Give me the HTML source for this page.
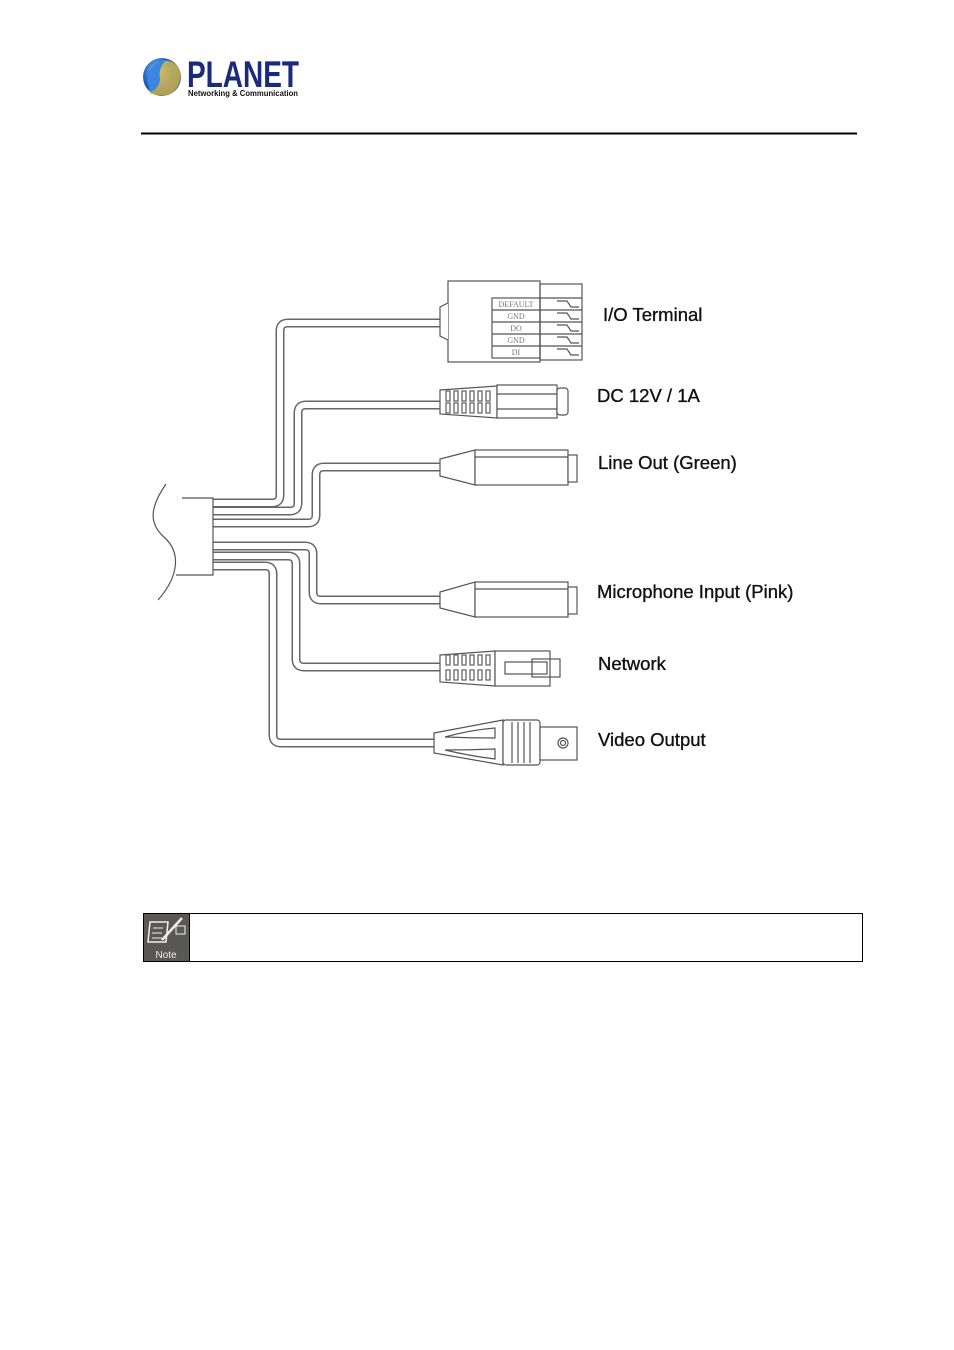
<!DOCTYPE html>
<html><head><meta charset="utf-8"><style>
body{margin:0;width:954px;height:1350px;background:#fff;position:relative;overflow:hidden;font-family:"Liberation Sans",Arial,sans-serif}
.lbl{position:absolute;font-size:18.5px;color:#111;line-height:20px;-webkit-text-stroke:0.35px #111}
</style></head><body>
<svg width="954" height="1350" style="position:absolute;left:0;top:0">
<defs><radialGradient id="g" cx="0.4" cy="0.35" r="0.7"><stop offset="0" stop-color="#9fd3ff"/><stop offset="0.5" stop-color="#2a6fc4"/><stop offset="1" stop-color="#0b2f7a"/></radialGradient></defs>
<circle cx="162" cy="77" r="19" fill="url(#g)"/>
<path d="M150,94 Q146,72 160,62 Q176,57 181,74 Q180,92 165,96 Z" fill="#d9b84a" opacity="0.8"/>
<path d="M147,80 Q150,62 166,60 Q158,68 160,80 Q158,90 150,92 Z" fill="#3a86e0"/>
<text x="187" y="87" font-family="Liberation Sans" font-weight="bold" font-size="37" fill="#1b2a7d" textLength="112" lengthAdjust="spacingAndGlyphs">PLANET</text>
<text x="188" y="96" font-family="Liberation Sans" font-weight="bold" font-size="8.5" fill="#111" textLength="110" lengthAdjust="spacingAndGlyphs">Networking &amp; Communication</text>
<line x1="141" y1="133.5" x2="857" y2="133.5" stroke="#000" stroke-width="2"/>

<g fill="none" stroke-linejoin="round">
<g stroke="#666" stroke-width="9">
<path d="M440,323 H288 Q280,323 280,331 V495 Q280,503 272,503 H213"/>
<path d="M440,405 H306 Q298,405 298,413 V503 Q298,511 290,511 H213"/>
<path d="M440,467 H324 Q316,467 316,475 V515 Q316,523 308,523 H213"/>
<path d="M440,600 H321 Q313,600 313,592 V554 Q313,546 305,546 H213"/>
<path d="M440,667 H304 Q296,667 296,659 V564 Q296,556 288,556 H213"/>
<path d="M434,743 H281 Q273,743 273,735 V574 Q273,566 265,566 H213"/>
</g>
<g stroke="#fff" stroke-width="6">
<path d="M440,323 H288 Q280,323 280,331 V495 Q280,503 272,503 H213"/>
<path d="M440,405 H306 Q298,405 298,413 V503 Q298,511 290,511 H213"/>
<path d="M440,467 H324 Q316,467 316,475 V515 Q316,523 308,523 H213"/>
<path d="M440,600 H321 Q313,600 313,592 V554 Q313,546 305,546 H213"/>
<path d="M440,667 H304 Q296,667 296,659 V564 Q296,556 288,556 H213"/>
<path d="M434,743 H281 Q273,743 273,735 V574 Q273,566 265,566 H213"/>
</g>
</g>

<g fill="none" stroke="#555" stroke-width="1.2">
<!-- bundle -->
<path d="M182,498 H213 V575 H176"/>
<path d="M166,484 C148,510 150,525 165,538 C180,552 180,575 158,600"/>
<!-- I/O -->
<rect x="448" y="281" width="92" height="81" fill="#fff"/>
<path d="M448,303 L440,307 V336 L448,340" fill="#fff"/>
<rect x="540" y="284" width="42" height="76"/>
<rect x="492" y="298" width="48" height="60"/>
<line x1="492" y1="310" x2="582" y2="310"/><line x1="492" y1="322" x2="582" y2="322"/><line x1="492" y1="334" x2="582" y2="334"/><line x1="492" y1="346" x2="582" y2="346"/><line x1="540" y1="298" x2="582" y2="298"/>
<path d="M557,301 h10 l4,6 h8 M557,313 h10 l4,6 h8 M557,325 h10 l4,6 h8 M557,337 h10 l4,6 h8 M557,349 h10 l4,6 h8"/>
<!-- DC -->
<path d="M440,390 L497,386 V418 L440,414 Z" fill="#fff"/>
<rect x="497" y="385" width="60" height="33" fill="#fff"/>
<line x1="497" y1="394" x2="557" y2="394"/><line x1="497" y1="409" x2="557" y2="409"/>
<rect x="557" y="388" width="11" height="27" rx="3" fill="#fff"/>
<!-- Line out -->
<path d="M440,459 L475,450 V485 L440,476 Z" fill="#fff"/>
<rect x="475" y="450" width="93" height="35" fill="#fff"/>
<line x1="475" y1="457" x2="568" y2="457"/>
<rect x="568" y="455" width="9" height="27" fill="#fff"/>
<!-- Mic -->
<path d="M440,592 L475,582 V617 L440,608 Z" fill="#fff"/>
<rect x="475" y="582" width="93" height="35" fill="#fff"/>
<line x1="475" y1="589" x2="568" y2="589"/>
<rect x="568" y="587" width="9" height="27" fill="#fff"/>
<!-- Network -->
<path d="M440,655 L495,651 V686 L440,682 Z" fill="#fff"/>
<rect x="495" y="651" width="55" height="35" fill="#fff"/>
<rect x="505" y="662" width="42" height="12"/>
<rect x="532" y="659" width="28" height="18"/>
<!-- Video -->
<path d="M434,733 L503,720 V765 L434,753 Z" fill="#fff"/>
<path d="M445,737 Q470,730 495,728 V738 Q470,738 445,737 Z M445,750 Q470,750 495,749 V759 Q470,756 445,750 Z"/>
<rect x="503" y="720" width="37" height="45" rx="3" fill="#fff"/>
<line x1="512" y1="722" x2="512" y2="763"/><line x1="518" y1="722" x2="518" y2="763"/><line x1="524" y1="722" x2="524" y2="763"/><line x1="530" y1="722" x2="530" y2="763"/>
<rect x="540" y="727" width="37" height="33" fill="#fff"/>
<circle cx="563" cy="743" r="5"/><circle cx="563" cy="743" r="2.5"/>
</g>
<g fill="none" stroke="#666" stroke-width="1.3">
<path d="M446,391v10h4v-10zM454,391v10h4v-10zM462,391v10h4v-10zM470,391v10h4v-10zM478,391v10h4v-10zM486,391v10h4v-10z"/>
<path d="M446,403v10h4v-10zM454,403v10h4v-10zM462,403v10h4v-10zM470,403v10h4v-10zM478,403v10h4v-10zM486,403v10h4v-10z"/>
<path d="M446,655v10h4v-10zM454,655v10h4v-10zM462,655v10h4v-10zM470,655v10h4v-10zM478,655v10h4v-10zM486,655v10h4v-10z"/>
<path d="M446,670v10h4v-10zM454,670v10h4v-10zM462,670v10h4v-10zM470,670v10h4v-10zM478,670v10h4v-10zM486,670v10h4v-10z"/>
</g>
<g font-family="Liberation Serif" font-size="8" fill="#777" text-anchor="middle">
<text x="516" y="307">DEFAULT</text><text x="516" y="319">GND</text><text x="516" y="331">DO</text><text x="516" y="343">GND</text><text x="516" y="355">DI</text>
</g>
<!-- note -->
<rect x="143.5" y="913.5" width="719" height="48" fill="none" stroke="#000" stroke-width="1"/>
<rect x="144" y="914" width="45" height="47" fill="#5a5855"/>
<line x1="189.5" y1="913" x2="189.5" y2="962" stroke="#000"/>
<path d="M150,922 h18 l-2,20 h-18 z" fill="none" stroke="#eee" stroke-width="1.5"/>
<path d="M153,928h10M152,933h10M152,938h10" stroke="#eee"/>
<path d="M162,940 L182,918" stroke="#eee" stroke-width="2.5"/>
<rect x="176" y="926" width="9" height="8" fill="none" stroke="#eee"/>
<text x="166" y="958" font-family="Liberation Sans" font-size="10" fill="#eee" text-anchor="middle">Note</text>
</svg>
<div class="lbl" style="left:603px;top:305px">I/O Terminal</div>
<div class="lbl" style="left:597px;top:386px">DC 12V / 1A</div>
<div class="lbl" style="left:598px;top:453px">Line Out (Green)</div>
<div class="lbl" style="left:597px;top:582px">Microphone Input (Pink)</div>
<div class="lbl" style="left:598px;top:654px">Network</div>
<div class="lbl" style="left:598px;top:730px">Video Output</div>
</body></html>
